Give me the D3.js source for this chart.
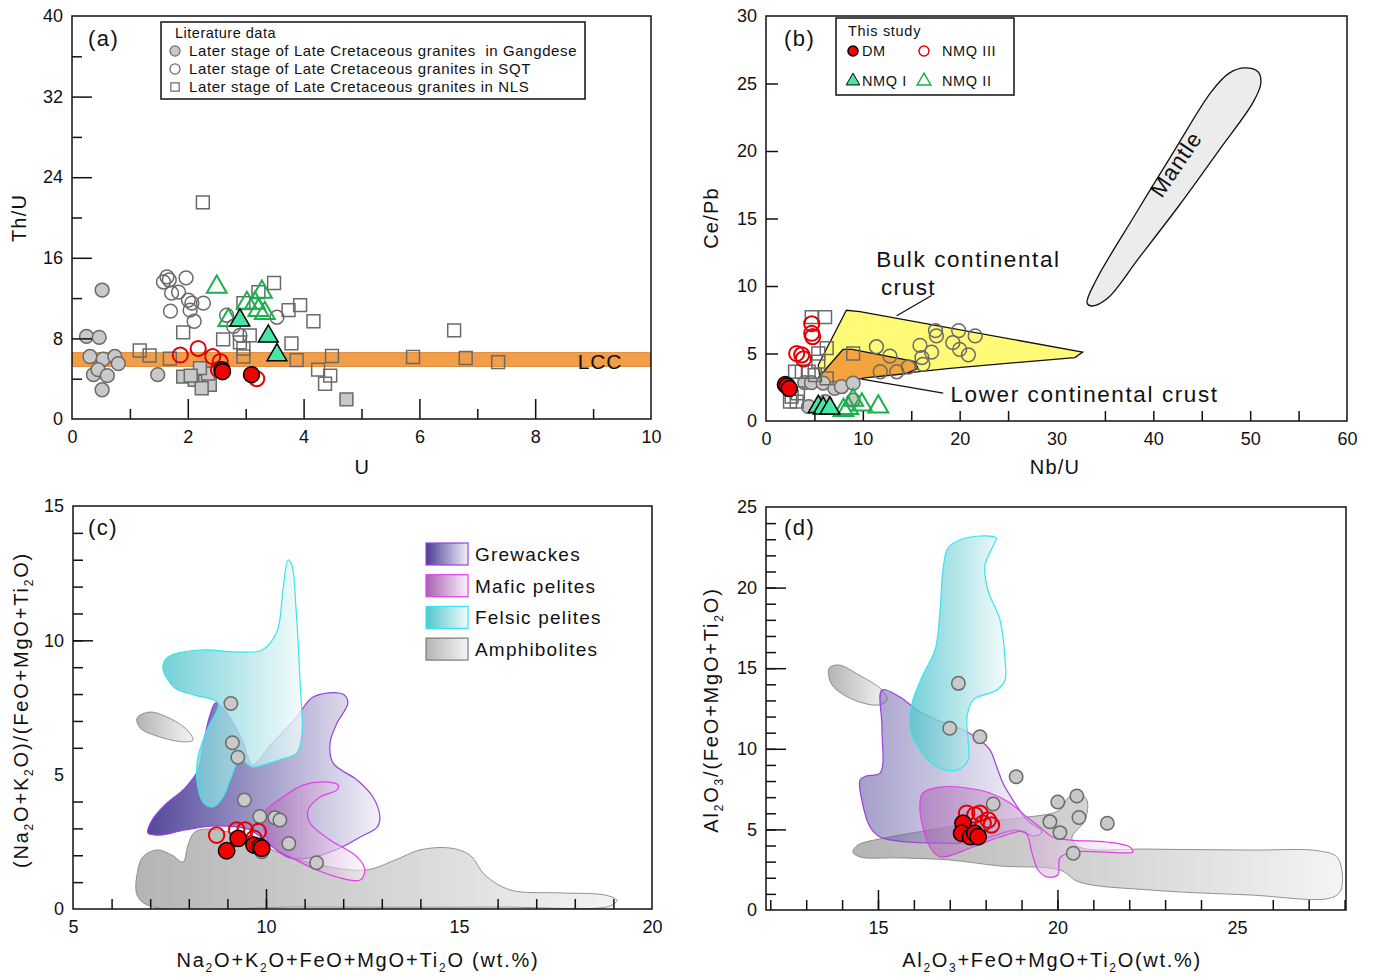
<!DOCTYPE html>
<html><head><meta charset="utf-8">
<script src="https://cdn.jsdelivr.net/npm/d3@7"></script>
<style>
body{margin:0;background:#fff}
svg text{font-family:"Liberation Sans",Arial,sans-serif}
</style>
</head><body>
<svg id="fig" width="1373" height="977"></svg>
<script>
// ---- panel (a) : Th/U vs U ----
var aGang = [[0.52,12.8],[0.25,8.2],[0.47,8.1],[0.31,6.2],[0.54,5.95],[0.74,6.2],[0.80,5.5],[0.37,4.4],[0.45,4.9],[0.61,4.3],[0.52,2.9],[1.48,4.4]];
var aSqt = [[1.64,14.1],[1.68,13.8],[1.58,13.6],[1.97,14.0],[1.72,12.5],[1.84,12.6],[2.01,11.8],[2.07,11.5],[2.27,11.5],[1.70,10.7],[2.04,10.8],[2.11,9.7],[2.67,10.3],[2.79,9.2],[3.54,10.1],[2.90,8.3]];
var aNls = [[2.26,21.5],[3.49,13.5],[3.22,12.6],[2.96,11.5],[3.94,11.3],[3.74,10.8],[4.17,9.7],[1.92,8.6],[2.61,7.9],[3.07,8.3],[2.90,7.6],[2.96,7.0],[3.79,7.5],[1.17,6.8],[1.34,6.3],[1.69,6.0],[2.96,6.2],[3.88,5.85],[4.49,6.25],[4.25,4.9],[4.46,4.3],[4.37,3.5],[5.89,6.15],[6.60,8.8],[6.80,6.05],[7.36,5.65]];
var aNlsGray = [[4.74,1.95],[1.92,4.2],[2.12,3.9],[2.30,3.7],[2.38,3.4],[2.24,3.05],[2.35,4.5],[2.21,5.05],[2.05,4.3]];
var aNmq3 = [[1.87,6.35],[2.18,7.0],[2.43,6.2],[2.56,5.7],[2.53,4.9],[3.19,4.0]];
var aDm = [[2.59,4.9],[2.60,4.7],[3.10,4.4]];
var aNmq1 = [[2.90,9.8],[3.39,8.2],[3.54,6.35]];
var aNmq2 = [[2.50,13.1],[3.28,12.6],[3.02,11.5],[3.16,11.5],[3.22,10.8],[3.33,10.5],[2.70,9.8]];
var lccBand = [5.2, 6.6];

// ---- panel (b) : Ce/Pb vs Nb/U ----
var bGang = [[4.0,2.84],[4.7,2.84],[5.9,2.8],[7.1,2.42],[7.8,2.54],[9.0,2.8],[9.0,1.55],[4.4,1.06],[6.1,1.43]];
var bSqt = [[11.4,5.5],[12.8,4.8],[11.8,3.65],[13.5,3.65],[14.7,4.0],[16.1,4.7],[15.9,5.6],[17.1,5.1],[17.5,6.7],[17.6,6.3],[19.3,5.8],[19.9,6.7],[20.0,5.3],[20.9,4.9],[21.6,6.3],[16.2,4.2]];
var bNls = [[4.72,7.7],[6.1,7.7],[6.27,5.4],[5.4,5.0],[9.0,5.0],[5.4,4.4],[3.0,3.65],[3.7,3.65],[4.4,3.65],[5.06,3.4],[6.27,3.16],[2.48,1.43],[3.17,1.43],[2.65,1.8],[3.3,2.05]];
var bDm = [[2.0,2.7],[2.2,2.6],[2.4,2.4]];
var bNmq3 = [[4.72,7.2],[4.72,6.5],[4.82,6.25],[3.17,5.0],[3.69,4.9],[3.86,4.6]];
var bNmq1 = [[5.4,1.06],[5.9,0.94],[6.6,0.94]];
var bNmq2 = [[9.0,1.55],[8.5,0.94],[11.6,1.06],[9.9,1.2],[8.0,0.8]];
var bulkCrust = [[5.4,4.15],[8.3,8.2],[9.7,8.1],[32.7,5.1],[31.9,4.7],[19.0,3.9],[15.1,3.6],[5.6,3.0]];
var lowerCrust = [[5.4,3.2],[7.95,5.3],[8.9,5.3],[15.4,4.4],[15.7,3.9],[14.4,3.5],[10.2,3.2],[6.6,2.6]];
var mantle = [[33.16,8.74],[34.1,10.44],[38.1,15.26],[42.2,20.07],[46.0,24.4],[47.8,25.75],[49.48,26.15],[50.83,25.85],[51.1,25.0],[50.3,23.6],[46.8,20.07],[42.7,16.0],[38.5,12.07],[35.3,9.11],[33.68,8.52]];

// ---- panel (c) ----
var cGang = [[9.09,7.65],[9.13,6.19],[9.27,5.65],[9.44,4.06],[9.84,3.44],[10.23,3.40],[10.36,3.31],[10.59,2.44],[11.31,1.72],[9.89,2.13]];
var cDm = [[8.98,2.17],[9.28,2.63],[9.69,2.38],[9.84,2.32],[9.89,2.26]];
var cNmq3 = [[8.72,2.75],[9.24,2.94],[9.46,2.94],[9.80,2.88],[9.69,2.63]];
var cAmph = [[6.66,0.52],[6.68,1.45],[6.81,1.94],[7.18,2.20],[7.56,2.01],[7.85,1.75],[7.98,2.38],[8.16,2.87],[8.81,2.94],[10.88,1.82],[12.56,1.45],[13.34,1.82],[13.99,2.20],[14.77,2.27],[15.28,2.01],[15.67,1.27],[16.32,0.71],[17.62,0.60],[18.78,0.52],[19.09,0.33],[18.91,0.11],[16.06,0.07],[10.88,0.07],[6.99,0.11]];
var cAmph2 = [[6.66,7.11],[6.99,7.33],[7.38,7.18],[7.90,6.74],[8.11,6.29],[7.90,6.22],[7.25,6.40],[6.74,6.74]];
var cGrew = [[6.94,2.83],[7.05,3.31],[7.38,3.87],[7.90,4.50],[8.24,5.17],[8.37,6.10],[8.55,7.22],[8.70,7.67],[9.02,7.22],[9.38,6.29],[9.66,5.36],[10.10,6.07],[10.80,7.15],[11.22,7.89],[11.99,8.00],[12.12,7.67],[11.84,6.92],[11.66,6.18],[11.74,5.43],[12.36,4.80],[12.77,4.17],[12.95,3.42],[12.88,3.05],[12.44,2.68],[11.92,2.27],[11.14,1.90],[10.62,1.90],[10.10,2.38],[9.59,2.94],[8.68,3.09],[7.90,2.94],[7.25,2.75]];
var cFel = [[8.76,7.67],[8.16,7.96],[7.64,8.22],[7.33,8.97],[7.46,9.38],[8.29,9.64],[9.33,9.56],[9.90,9.64],[10.28,10.31],[10.44,11.87],[10.57,12.99],[10.67,12.80],[10.78,11.13],[10.88,8.52],[10.93,6.48],[10.80,5.81],[10.36,5.55],[9.92,5.36],[9.64,5.28],[9.33,5.55],[9.07,4.80],[8.89,4.17],[8.63,3.80],[8.37,3.98],[8.21,4.80],[8.24,5.66],[8.47,6.66]];
var cMaf = [[9.97,3.61],[10.44,4.17],[10.96,4.61],[11.48,4.73],[11.87,4.61],[11.84,4.43],[11.40,4.17],[11.09,3.68],[11.14,3.20],[11.66,2.57],[12.36,1.94],[12.56,1.45],[12.44,1.08],[11.84,1.19],[11.32,1.45],[10.62,1.94],[10.18,2.31],[9.95,2.94]];

// ---- panel (d) ----
var dGang = [[17.24,14.06],[17.00,11.27],[17.84,10.75],[18.85,8.27],[18.21,6.58],[20.01,6.70],[20.54,7.07],[20.60,5.74],[19.79,5.48],[20.07,4.80],[20.44,3.52],[21.39,5.38]];
var dDm = [[17.37,5.38],[17.33,4.76],[17.58,4.55],[17.70,4.76],[17.79,4.55]];
var dNmq3 = [[17.47,6.0],[17.84,6.0],[18.07,5.58],[18.16,5.27],[17.93,5.38],[17.70,5.89]];
var dFel = [[16.95,22.46],[17.28,22.95],[17.84,23.20],[18.29,23.08],[18.18,22.46],[17.98,21.40],[18.06,19.85],[18.40,17.99],[18.54,15.51],[18.54,14.27],[18.31,13.65],[17.65,13.03],[17.48,11.97],[17.51,10.55],[17.51,9.31],[17.20,8.68],[16.64,8.87],[16.17,9.93],[15.89,11.35],[15.95,12.84],[16.25,14.58],[16.59,16.13],[16.73,18.61],[16.81,21.09]];
var dGrew = [[15.11,13.65],[15.61,13.21],[16.09,12.41],[16.64,11.79],[17.37,11.17],[17.84,10.55],[18.12,9.93],[18.31,8.87],[18.48,7.88],[18.76,6.82],[19.15,5.58],[19.57,4.84],[19.37,4.59],[18.87,4.96],[18.12,4.53],[17.48,4.16],[16.73,4.16],[15.81,4.22],[15.06,4.53],[14.78,5.15],[14.55,6.82],[14.50,8.06],[14.67,8.31],[15.06,8.50],[15.11,11.35]];
var dMaf = [[16.25,7.26],[16.73,7.63],[17.48,7.57],[18.12,7.26],[18.68,6.64],[19.15,5.77],[19.51,5.15],[19.87,4.53],[20.35,4.34],[21.38,4.22],[22.02,3.91],[22.10,3.60],[21.82,3.54],[20.43,3.60],[20.07,3.23],[20.01,2.17],[19.71,2.05],[19.46,2.48],[19.29,3.54],[19.09,4.84],[18.40,4.53],[17.65,3.91],[16.73,3.29],[16.45,3.91],[16.17,6.20]];
var dAmph = [[14.30,3.60],[14.44,4.03],[15.19,4.47],[16.45,4.96],[17.84,5.46],[18.96,5.71],[20.07,6.20],[20.29,6.95],[20.57,7.26],[20.82,6.82],[20.77,5.58],[20.40,4.47],[20.60,3.91],[22.58,3.78],[25.37,3.72],[27.31,3.66],[27.81,3.23],[27.90,1.24],[27.60,0.74],[25.37,0.93],[22.58,1.24],[20.60,1.74],[20.07,2.48],[18.40,2.73],[17.01,3.10],[15.61,3.23],[14.50,3.29]];
var dAmph2 = [[13.64,15.01],[13.91,15.20],[14.47,14.58],[15.11,13.65],[15.25,13.03],[15.03,12.72],[14.33,13.03],[13.72,13.96]];

var fieldNames = ["Grewackes", "Mafic pelites", "Felsic pelites", "Amphibolites"];

var svg = d3.select("#fig");
var defs = svg.append("defs");
var grads = {
  grew: ["#4a3e95", "#f2f1f8"],
  maf: ["#a860b0", "#fbf3fb"],
  fel: ["#52c6cd", "#f2fafa"],
  amp: ["#b4b4b4", "#f4f4f4"]
};
Object.keys(grads).forEach(function (k) {
  var lg = defs.append("linearGradient").attr("id", "g_" + k)
    .attr("x1", 0).attr("x2", 1).attr("y1", 0).attr("y2", 0);
  lg.append("stop").attr("offset", 0).attr("stop-color", grads[k][0]);
  lg.append("stop").attr("offset", 1).attr("stop-color", grads[k][1]);
});
var strokes = {grew: "#9b3ee0", maf: "#e23ee8", fel: "#35e6f0", amp: "#7a7a7a"};

function panel(o) {
  var x = d3.scaleLinear().domain(o.xd).range([o.l, o.r]);
  var y = d3.scaleLinear().domain(o.yd).range([o.b, o.t]);
  var g = svg.append("g");
  var clip = "clip_" + o.id;
  defs.append("clipPath").attr("id", clip).append("rect")
    .attr("x", o.l).attr("y", o.t).attr("width", o.r - o.l).attr("height", o.b - o.t);
  var inner = g.append("g").attr("clip-path", "url(#" + clip + ")");
  return {x: x, y: y, g: g, inner: inner, o: o};
}

function axes(p, a) {
  var o = p.o;
  var gx = p.g.append("g").attr("transform", "translate(0," + o.b + ")");
  if (a.xMinor) gx.append("g").call(d3.axisBottom(p.x).tickValues(a.xMinor).tickSize(-10).tickFormat(""));
  gx.append("g").call(d3.axisBottom(p.x).tickValues(a.xMajor).tickSize(-(a.xLen || 20)).tickPadding(11));
  var gy = p.g.append("g").attr("transform", "translate(" + o.l + ",0)");
  if (a.yMinor) gy.append("g").call(d3.axisLeft(p.y).tickValues(a.yMinor).tickSize(-10).tickFormat(""));
  gy.append("g").call(d3.axisLeft(p.y).tickValues(a.yMajor).tickSize(-(a.yLen || 20)).tickPadding(9));
  p.g.selectAll(".domain").remove();
  p.g.selectAll(".tick line").attr("stroke", "#111").attr("stroke-width", 1.5);
  p.g.selectAll(".tick text").attr("font-size", 18).attr("fill", "#111")
    .style("font-family", "'Liberation Sans', Arial, sans-serif");
  // drop tick marks that would sit on the frame
  p.g.selectAll(".tick line").filter(function (d) { return d === o.xd[0] || d === o.xd[1] || d === o.yd[0] || d === o.yd[1]; }).remove();
  p.g.append("rect").attr("x", o.l).attr("y", o.t).attr("width", o.r - o.l).attr("height", o.b - o.t)
    .attr("fill", "none").attr("stroke", "#111").attr("stroke-width", 1.5);
}

var symStyle = {
  gang: {type: d3.symbolCircle, size: 150, fill: "#c9c9c9", stroke: "#6a6a6a", sw: 1.5},
  sqt:  {type: d3.symbolCircle, size: 150, fill: "none", stroke: "#6a6a6a", sw: 1.5},
  nls:  {type: d3.symbolSquare, size: 165, fill: "none", stroke: "#6a6a6a", sw: 1.5},
  nlsG: {type: d3.symbolSquare, size: 165, fill: "#c9c9c9", stroke: "#6a6a6a", sw: 1.5},
  dm:   {type: d3.symbolCircle, size: 200, fill: "#f20000", stroke: "#000", sw: 1.5},
  nmq3: {type: d3.symbolCircle, size: 180, fill: "none", stroke: "#e40000", sw: 2},
  nmq1: {type: d3.symbolTriangle, size: 170, fill: "#48e6a6", stroke: "#000", sw: 1.5},
  nmq2: {type: d3.symbolTriangle, size: 170, fill: "none", stroke: "#1caf4e", sw: 2}
};

function dots(p, data, kind, scale) {
  var s = symStyle[kind];
  p.inner.append("g").selectAll("path").data(data).enter().append("path")
    .attr("d", d3.symbol().type(s.type).size(s.size * (scale || 1)))
    .attr("transform", function (d) { return "translate(" + p.x(d[0]) + "," + p.y(d[1]) + ")"; })
    .attr("fill", s.fill).attr("stroke", s.stroke).attr("stroke-width", s.sw);
}

function field(p, pts, key, op, curve) {
  var line = d3.line().x(function (d) { return p.x(d[0]); }).y(function (d) { return p.y(d[1]); })
    .curve(curve || d3.curveCatmullRomClosed.alpha(0.5));
  return p.inner.append("path").attr("d", line(pts))
    .attr("fill", "url(#g_" + key + ")").attr("fill-opacity", op)
    .attr("stroke", strokes[key]).attr("stroke-width", key === "amp" ? 0.8 : 1.2);
}

function richText(g, x, y, parts, size, rotate, ls) {
  var t = g.append("text").attr("font-size", size).attr("fill", "#111").attr("text-anchor", "middle")
    .attr("letter-spacing", ls == null ? 0.5 : ls);
  if (rotate) t.attr("transform", "translate(" + x + "," + y + ") rotate(-90)");
  else t.attr("x", x).attr("y", y);
  var prevSub = false;
  parts.forEach(function (s) {
    var sub = s.charAt(0) === "_";
    t.append("tspan").text(sub ? s.slice(1) : s)
      .attr("font-size", sub ? size * 0.6 : size)
      .attr("dy", sub ? (prevSub ? 0 : 5) : (prevSub ? -5 : 0));
    prevSub = sub;
  });
  return t;
}

function label(g, x, y, txt, size, anchor) {
  return g.append("text").attr("x", x).attr("y", y).attr("font-size", size)
    .attr("text-anchor", anchor || "start").attr("fill", "#111").style("white-space", "pre").text(txt);
}

// ================= panel (a) =================
var pa = panel({id: "a", xd: [0, 10], yd: [0, 40], l: 72, r: 651, t: 16, b: 419});
pa.inner.append("rect").attr("x", pa.x(0)).attr("width", pa.x(10) - pa.x(0))
  .attr("y", pa.y(lccBand[1])).attr("height", pa.y(lccBand[0]) - pa.y(lccBand[1]))
  .attr("fill", "#f29d48").attr("stroke", "#d9822e").attr("stroke-width", 0.8);
dots(pa, aGang, "gang");
dots(pa, aSqt, "sqt");
dots(pa, aNls, "nls");
dots(pa, aNlsGray, "nlsG");
dots(pa, aNmq2, "nmq2");
dots(pa, aNmq1, "nmq1");
dots(pa, aNmq3, "nmq3");
dots(pa, aDm, "dm");
axes(pa, {xMinor: [1, 3, 5, 7, 9], xMajor: [0, 2, 4, 6, 8, 10], yMinor: [4, 12, 20, 28, 36], yMajor: [0, 8, 16, 24, 32, 40]});
label(pa.g, pa.x(9.12), pa.y(5.75) + 8, "LCC", 21, "middle").attr("letter-spacing", 0.8);
label(pa.g, 88, 46, "(a)", 22).attr("letter-spacing", 1.5);
richText(pa.g, 26, 218, ["Th/U"], 20, true, 1.2);
richText(pa.g, 362, 474, ["U"], 20);
// legend (a)
var la = pa.g.append("g");
la.append("rect").attr("x", 161).attr("y", 22).attr("width", 424).attr("height", 77)
  .attr("fill", "#fff").attr("stroke", "#111").attr("stroke-width", 1.5);
label(la, 175, 38, "Literature data", 14.5).attr("letter-spacing", 0.5);
var litRows = [["gang", "Later stage of Late Cretaceous granites  in Gangdese"],
               ["sqt", "Later stage of Late Cretaceous granites in SQT"],
               ["nls", "Later stage of Late Cretaceous granites in NLS"]];
litRows.forEach(function (r, i) {
  var s = symStyle[r[0]], cy = 51 + i * 18;
  la.append("path").attr("d", d3.symbol().type(s.type).size(s.type === d3.symbolSquare ? 70 : 80)())
    .attr("transform", "translate(175," + cy + ")")
    .attr("fill", s.fill).attr("stroke", s.stroke).attr("stroke-width", 1.2);
  label(la, 189, cy + 5, r[1], 15).attr("letter-spacing", 0.6);
});

// ================= panel (b) =================
var pb = panel({id: "b", xd: [0, 60], yd: [0, 30], l: 766, r: 1347, t: 16, b: 421});
field(pb, bulkCrust, "amp", 1, d3.curveLinearClosed)
  .attr("fill", "#fffb77").attr("stroke", "#111").attr("stroke-width", 1.3);
field(pb, lowerCrust, "amp", 1, d3.curveLinearClosed)
  .attr("fill", "#f3a43c").attr("stroke", "#111").attr("stroke-width", 1.3);
field(pb, mantle, "amp", 1)
  .attr("fill", "#ececec").attr("stroke", "#111").attr("stroke-width", 1.3);
pb.inner.append("line").attr("x1", pb.x(13.5)).attr("y1", pb.y(7.8)).attr("x2", pb.x(17.1)).attr("y2", pb.y(9.3))
  .attr("stroke", "#111").attr("stroke-width", 1.3);
pb.inner.append("line").attr("x1", pb.x(9.9)).attr("y1", pb.y(3.1)).attr("x2", pb.x(18.3)).attr("y2", pb.y(2.07))
  .attr("stroke", "#111").attr("stroke-width", 1.3);
dots(pb, bGang, "gang");
dots(pb, bSqt, "sqt");
dots(pb, bNls, "nls");
dots(pb, bNmq2, "nmq2");
dots(pb, bNmq1, "nmq1");
dots(pb, bNmq3, "nmq3");
dots(pb, bDm, "dm");
axes(pb, {xMinor: [5, 15, 25, 35, 45, 55], xMajor: [0, 10, 20, 30, 40, 50, 60], xLen: 10,
          yMajor: [0, 5, 10, 15, 20, 25, 30], yLen: 12});
label(pb.g, pb.x(20.9), pb.y(12.0) + 8, "Bulk continental", 22.5, "middle").attr("letter-spacing", 1.6);
label(pb.g, pb.x(14.7), pb.y(9.9) + 8, "crust", 22.5, "middle").attr("letter-spacing", 1.2);
label(pb.g, pb.x(32.9), pb.y(2.0) + 8, "Lower continental crust", 22.5, "middle").attr("letter-spacing", 1.6);
pb.g.append("text").attr("font-size", 22.5).attr("text-anchor", "middle").attr("fill", "#111").attr("letter-spacing", 1)
  .attr("transform", "translate(" + pb.x(43.0) + "," + (pb.y(19.3) + 8) + ") rotate(-56)").text("Mantle");
label(pb.g, 784, 46, "(b)", 22).attr("letter-spacing", 1.5);
richText(pb.g, 718, 218, ["Ce/Pb"], 20, true, 1.2);
richText(pb.g, 1055, 474, ["Nb/U"], 20, false, 1.2);
// legend (b)
var lb = pb.g.append("g");
lb.append("rect").attr("x", 836).attr("y", 18).attr("width", 178).attr("height", 77)
  .attr("fill", "#fff").attr("stroke", "#111").attr("stroke-width", 1.5);
label(lb, 848, 36, "This study", 14.5).attr("letter-spacing", 0.7);
var studyRows = [["dm", "DM", 853, 51], ["nmq3", "NMQ III", 924, 51], ["nmq1", "NMQ I", 853, 81], ["nmq2", "NMQ II", 924, 81]];
studyRows.forEach(function (r) {
  var s = symStyle[r[0]];
  lb.append("path").attr("d", d3.symbol().type(s.type).size(80)())
    .attr("transform", "translate(" + r[2] + "," + r[3] + ")")
    .attr("fill", s.fill).attr("stroke", s.stroke).attr("stroke-width", r[0] === "nmq1" ? 1 : 1.5);
  label(lb, r[2] + (r[0] === "dm" || r[0] === "nmq1" ? 9 : 18), r[3] + 5, r[1], 14.5).attr("letter-spacing", 0.6);
});

// ================= panel (c) =================
var pc = panel({id: "c", xd: [5, 20], yd: [0, 15], l: 73, r: 652, t: 506, b: 909});
field(pc, cAmph, "amp", 1);
field(pc, cAmph2, "amp", 1);
field(pc, cGrew, "grew", 0.95);
field(pc, cFel, "fel", 0.8);
field(pc, cMaf, "maf", 0.6);
dots(pc, cGang, "gang", 0.95);
dots(pc, cNmq3, "nmq3", 1.05);
dots(pc, cDm, "dm", 1.05);
axes(pc, {xMinor: d3.range(6, 20), xMajor: [5, 10, 15, 20], yMinor: d3.range(1, 15), yMajor: [0, 5, 10, 15]});
label(pc.g, 88, 535, "(c)", 22).attr("letter-spacing", 1.5);
richText(pc.g, 358, 967, ["Na", "_2", "O+K", "_2", "O+FeO+MgO+Ti", "_2", "O (wt.%)"], 20, false, 1.8);
richText(pc.g, 28, 710, ["(Na", "_2", "O+K", "_2", "O)/(FeO+MgO+Ti", "_2", "O)"], 20, true, 1.8);
// legend (c)
var keys = ["grew", "maf", "fel", "amp"];
fieldNames.forEach(function (n, i) {
  var cy = 554 + i * 31.7;
  pc.g.append("rect").attr("x", 426).attr("y", cy - 11).attr("width", 42).attr("height", 22)
    .attr("fill", "url(#g_" + keys[i] + ")").attr("stroke", strokes[keys[i]]).attr("stroke-width", 1.2);
  label(pc.g, 475, cy + 7, n, 19).attr("letter-spacing", 1.2);
});

// ================= panel (d) =================
var pd = panel({id: "d", xd: [11.88, 28.04], yd: [0, 25], l: 766, r: 1346, t: 507, b: 910});
field(pd, dAmph, "amp", 1);
field(pd, dAmph2, "amp", 1);
field(pd, dGrew, "grew", 0.5);
field(pd, dFel, "fel", 0.8);
field(pd, dMaf, "maf", 0.55);
dots(pd, dGang, "gang", 0.95);
dots(pd, dNmq3, "nmq3", 1.05);
dots(pd, dDm, "dm", 1.05);
axes(pd, {xMinor: d3.range(12, 29), xMajor: [15, 20, 25], yMinor: d3.range(1, 25), yMajor: [0, 5, 10, 15, 20, 25]});
label(pd.g, 784, 535, "(d)", 22).attr("letter-spacing", 1.5);
richText(pd.g, 1052, 967, ["Al", "_2", "O", "_3", "+FeO+MgO+Ti", "_2", "O(wt.%)"], 20, false, 1.7);
richText(pd.g, 718, 710, ["Al", "_2", "O", "_3", "/(FeO+MgO+Ti", "_2", "O)"], 20, true, 1.8);
</script>
</body></html>
